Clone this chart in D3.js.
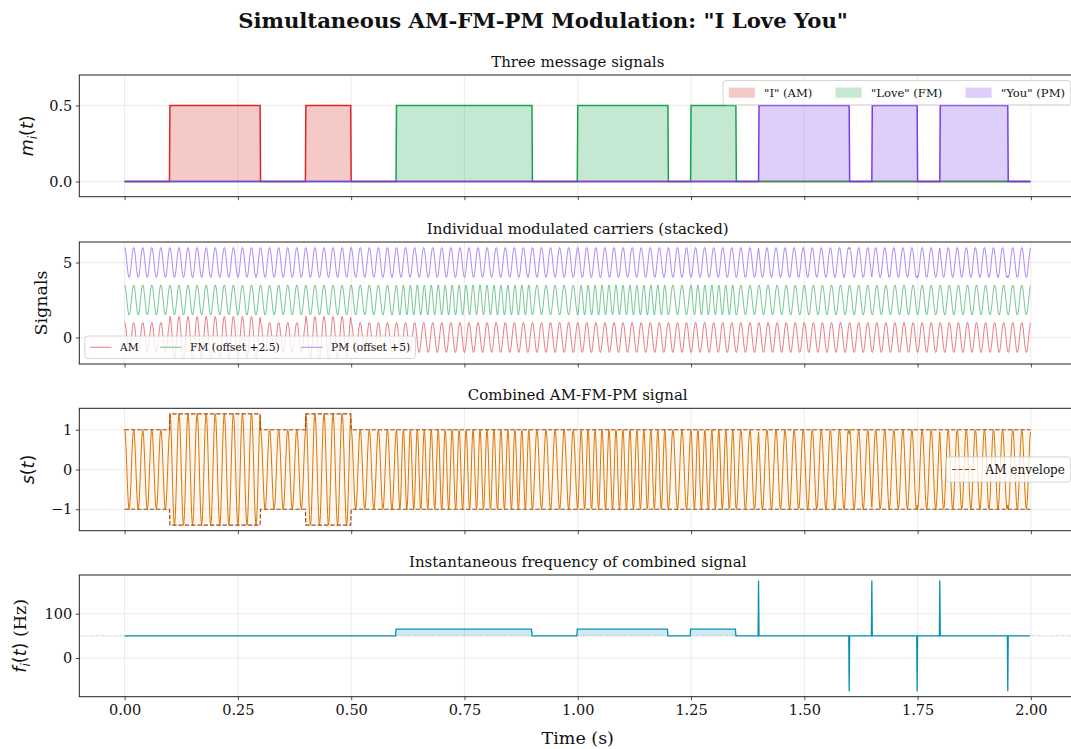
<!DOCTYPE html>
<html>
<head>
<meta charset="utf-8">
<script src="https://cdn.jsdelivr.net/npm/d3@7/dist/d3.min.js"></script>
<style>
  body { margin: 0; background: #ffffff; }
  svg text { font-family: "DejaVu Serif", serif; fill: #111; }
</style>
</head>
<body>
<svg id="chart" width="1071" height="749"></svg>
<script>
// ---- message timing (seconds): each word is a train of rectangular pulses ----
const amPulses = [[0.10, 0.30], [0.40, 0.50]];                 // "I"
const fmPulses = [[0.60, 0.90], [1.00, 1.20], [1.25, 1.35]];   // "Love"
const pmPulses = [[1.40, 1.60], [1.65, 1.75], [1.80, 1.95]];   // "You"
const pulseLevel = 0.5;

// ---- modulation settings ----
const duration = 2.0;          // s
const sampleRate = 1000;       // Hz
const carrierHz = 50;          // Hz
const amIndex = 0.8;           // envelope = 1 + amIndex * m
const fmDeviation = 30;        // Hz per unit of message
const pmIndex = Math.PI / 2;   // rad per unit of message
const stackOffsets = [0, 2.5, 5];

// ---- tick values and labels ----
const xTicks = [0, 0.25, 0.5, 0.75, 1.0, 1.25, 1.5, 1.75, 2.0];
const xTickLabels = ["0.00", "0.25", "0.50", "0.75", "1.00", "1.25", "1.50", "1.75", "2.00"];
const msgTicks = [0, 0.5];
const msgTickLabels = ["0.0", "0.5"];
const stackTicks = [0, 5];
const stackTickLabels = ["0", "5"];
const combTicks = [-1, 0, 1];
const combTickLabels = ["\u22121", "0", "1"];
const freqTicks = [0, 100];
const freqTickLabels = ["0", "100"];

// ---- colours ----
const colAM = "#dc2626", colFM = "#16a34a", colPM = "#7c3aed";
const colSig = "#d97706", colEnv = "#a34a12", colFreq = "#0891b2";

// ---- sampled signals ----
const N = Math.round(duration * sampleRate);
const t = d3.range(N).map(n => n / sampleRate);
function pulseTrain(pulses) {
  const m = new Array(N).fill(0);
  pulses.forEach(([a, b]) => {
    for (let n = Math.round(a * sampleRate); n < Math.round(b * sampleRate); n++) m[n] = pulseLevel;
  });
  return m;
}
const mAM = pulseTrain(amPulses), mFM = pulseTrain(fmPulses), mPM = pulseTrain(pmPulses);

const envelope = mAM.map(v => 1 + amIndex * v);
const fmPhase = [];
let acc = 0;
for (let n = 0; n < N; n++) { acc += 2 * Math.PI * fmDeviation * mFM[n] / sampleRate; fmPhase.push(acc); }
const carrierPhase = t.map(tt => 2 * Math.PI * carrierHz * tt);
const totalPhase = t.map((_, n) => carrierPhase[n] + fmPhase[n] + pmIndex * mPM[n]);

const sigAM = t.map((_, n) => envelope[n] * Math.cos(carrierPhase[n]) + stackOffsets[0]);
const sigFM = t.map((_, n) => Math.cos(carrierPhase[n] + fmPhase[n]) + stackOffsets[1]);
const sigPM = t.map((_, n) => Math.cos(carrierPhase[n] + pmIndex * mPM[n]) + stackOffsets[2]);
const sigComb = t.map((_, n) => envelope[n] * Math.cos(totalPhase[n]));
const instFreq = d3.range(N - 1).map(n => (totalPhase[n + 1] - totalPhase[n]) * sampleRate / (2 * Math.PI));
const tFreq = t.slice(0, N - 1);

// ---- layout ----
const svg = d3.select("#chart");
const axLeft = 79.3, axRight = 1076.2;
const x = d3.scaleLinear().domain([-0.1, 2.1]).range([axLeft, axRight]);
const boxes = [
  { top: 75.0, bottom: 196.7 },
  { top: 242.0, bottom: 364.0 },
  { top: 408.3, bottom: 530.7 },
  { top: 575.0, bottom: 696.7 }
];
function padded(lo, hi) { const p = 0.05 * (hi - lo); return [lo - p, hi + p]; }

const yDomains = [
  [-0.1, 0.7],
  padded(d3.min(sigAM), d3.max(sigPM)),
  padded(-d3.max(envelope), d3.max(envelope)),
  padded(d3.min(instFreq), d3.max(instFreq))
];
const ys = boxes.map((b, i) => d3.scaleLinear().domain(yDomains[i]).range([b.bottom, b.top]));

const tickFont = 14.5, titleFont = 15, labelFont = 17.5;

function makePanel(i, yTicks, yTickLabels, title, showX) {
  const b = boxes[i], y = ys[i];
  const g = svg.append("g");
  const clipId = "clip" + i;
  svg.append("clipPath").attr("id", clipId).append("rect")
    .attr("x", axLeft).attr("y", b.top).attr("width", axRight - axLeft).attr("height", b.bottom - b.top);
  // grid
  const grid = g.append("g").attr("stroke", "#b0b0b0").attr("stroke-opacity", 0.3).attr("stroke-width", 0.8);
  xTicks.forEach(v => grid.append("line").attr("x1", x(v)).attr("x2", x(v)).attr("y1", b.top).attr("y2", b.bottom));
  yTicks.forEach(v => grid.append("line").attr("x1", axLeft).attr("x2", axRight).attr("y1", y(v)).attr("y2", y(v)));
  const plot = svg.append("g").attr("clip-path", `url(#${clipId})`);
  // axes via d3 axis generators
  const yAxis = d3.axisLeft(y).tickValues(yTicks).tickFormat((d, k) => yTickLabels[k]).tickSize(3.5).tickPadding(3.5);
  const ya = svg.append("g").attr("transform", `translate(${axLeft},0)`).call(yAxis);
  const xAxis = d3.axisBottom(x).tickValues(xTicks).tickFormat((d, k) => showX ? xTickLabels[k] : "").tickSize(3.5).tickPadding(5);
  const xa = svg.append("g").attr("transform", `translate(0,${b.bottom})`).call(xAxis);
  [ya, xa].forEach(a => {
    a.select(".domain").remove();
    a.selectAll(".tick line").attr("stroke", "#222").attr("stroke-width", 0.8);
    a.selectAll(".tick text").attr("font-family", "DejaVu Serif").attr("font-size", tickFont).attr("fill", "#111");
  });
  // frame
  svg.append("rect").attr("x", axLeft).attr("y", b.top).attr("width", axRight - axLeft).attr("height", b.bottom - b.top)
    .attr("fill", "none").attr("stroke", "#222").attr("stroke-width", 1);
  svg.append("text").attr("x", (axLeft + axRight) / 2).attr("y", b.top - 8.5).attr("text-anchor", "middle")
    .attr("font-size", titleFont).text(title);
  return { plot, y, b };
}

function mathLabel(xc, yc, parts) {
  const txt = svg.append("text").attr("transform", `translate(${xc},${yc}) rotate(-90)`)
    .attr("text-anchor", "middle").attr("font-size", labelFont);
  parts.forEach(p => {
    const ts = txt.append("tspan").text(p.s);
    if (p.it) ts.attr("font-family", "DejaVu Sans").attr("font-style", "italic");
    else if (p.sans) ts.attr("font-family", "DejaVu Sans");
    if (p.sub) ts.attr("font-size", labelFont * 0.7).attr("dy", 3.5);
    if (p.up) ts.attr("dy", -3.5);
  });
  return txt;
}

function legend(items, anchor, fs, handleEm) {
  const g = svg.append("g");
  const pad = 0.4 * fs, handle = (handleEm || 2.0) * fs, tpad = 0.8 * fs, colsp = 2.0 * fs;
  const texts = items.map(it => g.append("text").attr("font-size", fs).text(it.label));
  const widths = texts.map(tx => tx.node().getComputedTextLength());
  const w = 2 * pad + d3.sum(widths) + items.length * (handle + tpad) + (items.length - 1) * colsp + 2;
  const h = fs * 1.3 + 2 * pad;
  let x0, y0;
  if (anchor.right !== undefined) x0 = anchor.right - w; else x0 = anchor.left;
  if (anchor.top !== undefined) y0 = anchor.top; else if (anchor.bottom !== undefined) y0 = anchor.bottom - h; else y0 = anchor.cy - h / 2;
  g.insert("rect", ":first-child").attr("x", x0).attr("y", y0).attr("width", w).attr("height", h).attr("rx", 3)
    .attr("fill", "#fff").attr("fill-opacity", 0.8).attr("stroke", "#cccccc").attr("stroke-width", 0.8);
  let cx = x0 + pad + 1;
  const cy = y0 + h / 2;
  items.forEach((it, k) => {
    if (it.kind === "patch") {
      g.append("rect").attr("x", cx).attr("y", cy - 0.44 * fs).attr("width", handle).attr("height", 0.88 * fs)
        .attr("fill", it.color).attr("fill-opacity", 0.25);
    } else {
      g.append("line").attr("x1", cx).attr("x2", cx + handle).attr("y1", cy).attr("y2", cy)
        .attr("stroke", it.color).attr("stroke-width", it.width || 1).attr("stroke-opacity", it.opacity || 1)
        .attr("stroke-dasharray", it.dash || null);
    }
    texts[k].attr("x", cx + handle + tpad).attr("y", cy + 0.36 * fs);
    cx += handle + tpad + widths[k] + colsp;
  });
}

// ---- figure title ----
svg.append("text").attr("x", 543).attr("y", 28).attr("text-anchor", "middle")
  .attr("font-size", 21.2).attr("font-weight", "bold").text('Simultaneous AM-FM-PM Modulation: "I Love You"');

// ---- panel 1: message signals ----
{
  const { plot, y } = makePanel(0, msgTicks, msgTickLabels, "Three message signals", false);
  [[mAM, colAM], [mFM, colFM], [mPM, colPM]].forEach(([m, c]) => {
    plot.append("path").datum(m)
      .attr("d", d3.area().x((d, n) => x(t[n])).y0(y(0)).y1(d => y(d)))
      .attr("fill", c).attr("fill-opacity", 0.25);
    plot.append("path").datum(m)
      .attr("d", d3.line().x((d, n) => x(t[n])).y(d => y(d)))
      .attr("fill", "none").attr("stroke", c).attr("stroke-width", 1.5);
  });
  mathLabel(33, (boxes[0].top + boxes[0].bottom) / 2,
    [{ s: "m", it: true }, { s: "i", it: true, sub: true }, { s: "(", sans: true, up: true }, { s: "t", it: true }, { s: ")", sans: true }]);
  legend([
    { label: '"I" (AM)', kind: "patch", color: colAM },
    { label: '"Love" (FM)', kind: "patch", color: colFM },
    { label: '"You" (PM)', kind: "patch", color: colPM }
  ], { right: axRight - 5.5, top: boxes[0].top + 5.5 }, 11.6, 2.25);
}

// ---- panel 2: stacked modulated carriers ----
{
  const { plot, y } = makePanel(1, stackTicks, stackTickLabels, "Individual modulated carriers (stacked)", false);
  [[sigAM, colAM], [sigFM, colFM], [sigPM, colPM]].forEach(([s, c]) => {
    plot.append("path").datum(s)
      .attr("d", d3.line().x((d, n) => x(t[n])).y(d => y(d)))
      .attr("fill", "none").attr("stroke", c).attr("stroke-width", 0.8).attr("stroke-opacity", 0.75);
  });
  svg.append("text").attr("transform", `translate(47,${(boxes[1].top + boxes[1].bottom) / 2}) rotate(-90)`)
    .attr("text-anchor", "middle").attr("font-size", labelFont).text("Signals");
  legend([
    { label: "AM", kind: "line", color: colAM, width: 0.8, opacity: 0.75 },
    { label: "FM (offset +2.5)", kind: "line", color: colFM, width: 0.8, opacity: 0.75 },
    { label: "PM (offset +5)", kind: "line", color: colPM, width: 0.8, opacity: 0.75 }
  ], { left: axLeft + 5.5, bottom: boxes[1].bottom - 5.5 }, 10.7);
}

// ---- panel 3: combined signal ----
{
  const { plot, y } = makePanel(2, combTicks, combTickLabels, "Combined AM-FM-PM signal", false);
  plot.append("path").datum(envelope)
    .attr("d", d3.area().x((d, n) => x(t[n])).y0(d => y(-d)).y1(d => y(d)))
    .attr("fill", colSig).attr("fill-opacity", 0.06);
  plot.append("path").datum(sigComb)
    .attr("d", d3.line().x((d, n) => x(t[n])).y(d => y(d)))
    .attr("fill", "none").attr("stroke", colSig).attr("stroke-width", 1);
  [1, -1].forEach(sgn => {
    plot.append("path").datum(envelope)
      .attr("d", d3.line().x((d, n) => x(t[n])).y(d => y(sgn * d)))
      .attr("fill", "none").attr("stroke", colEnv).attr("stroke-width", 1.2).attr("stroke-dasharray", "4.4,1.9");
  });
  mathLabel(34, (boxes[2].top + boxes[2].bottom) / 2,
    [{ s: "s", it: true }, { s: "(", sans: true }, { s: "t", it: true }, { s: ")", sans: true }]);
  legend([{ label: "AM envelope", kind: "line", color: colEnv, width: 1.2, dash: "4.4,1.9" }],
    { right: axRight - 5.5, cy: (boxes[2].top + boxes[2].bottom) / 2 }, 12);
}

// ---- panel 4: instantaneous frequency ----
{
  const { plot, y } = makePanel(3, freqTicks, freqTickLabels, "Instantaneous frequency of combined signal", true);
  plot.append("path").datum(instFreq)
    .attr("d", d3.area().x((d, n) => x(tFreq[n])).y0(y(carrierHz)).y1(d => y(d)))
    .attr("fill", colFreq).attr("fill-opacity", 0.2);
  plot.append("line").attr("x1", axLeft).attr("x2", axRight).attr("y1", y(carrierHz)).attr("y2", y(carrierHz))
    .attr("stroke", "#888").attr("stroke-width", 0.8).attr("stroke-dasharray", "0.8,1.6");
  plot.append("path").datum(instFreq)
    .attr("d", d3.line().x((d, n) => x(tFreq[n])).y(d => y(d)))
    .attr("fill", "none").attr("stroke", colFreq).attr("stroke-width", 1.3);
  mathLabel(26, (boxes[3].top + boxes[3].bottom) / 2,
    [{ s: "f", it: true }, { s: "i", it: true, sub: true }, { s: "(", sans: true, up: true }, { s: "t", it: true }, { s: ")", sans: true }, { s: " (Hz)" }]);
  svg.append("text").attr("x", (axLeft + axRight) / 2).attr("y", 744).attr("text-anchor", "middle")
    .attr("font-size", labelFont).text("Time (s)");
}
</script>
</body>
</html>
